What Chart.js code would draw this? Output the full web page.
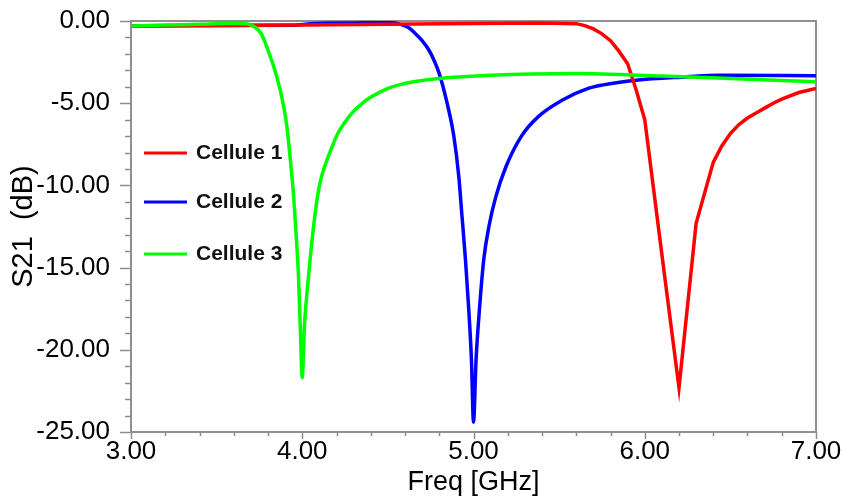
<!DOCTYPE html>
<html>
<head>
<meta charset="utf-8">
<script src="https://cdn.jsdelivr.net/npm/chart.js@4.4.1/dist/chart.umd.min.js"></script>
<style>
  body { margin: 0; background: #fff; }
</style>
</head>
<body>
<canvas id="myChart" width="843" height="501"></canvas>
<script>
// S21 curves (GHz, dB)
const freqCell1 = [3.0, 3.5, 4.0, 4.5, 5.0, 5.4, 5.6, 5.65, 5.7, 5.75, 5.8, 5.85, 5.9, 5.95, 6.0, 6.1, 6.2, 6.3, 6.4,
  6.45, 6.5, 6.55, 6.6, 6.65, 6.7, 6.75, 6.8, 6.9, 7.0];
const s21Cell1 = [-0.3, -0.28, -0.25, -0.2, -0.15, -0.12, -0.16, -0.28, -0.48, -0.78, -1.2, -1.85, -2.6, -4.2, -6.0, -14.2, -22.3, -12.3, -8.6,
  -7.6, -6.85, -6.3, -5.9, -5.6, -5.3, -5.0, -4.75, -4.35, -4.1];

const freqCell2 = [3.0, 3.5, 3.95, 4.05, 4.3, 4.5, 4.56, 4.62, 4.66, 4.7, 4.74, 4.77, 4.8, 4.846, 4.885, 4.914, 4.933, 4.953, 4.972, 4.988, 5.0,
  5.015, 5.035, 5.06, 5.09, 5.13, 5.19, 5.28, 5.38, 5.52, 5.67, 5.75, 5.95, 6.24, 6.43, 7.0];
const s21Cell2 = [-0.3, -0.28, -0.26, -0.16, -0.12, -0.1, -0.16, -0.4, -0.76, -1.2, -1.78, -2.4, -3.2, -5.0, -7.0, -9.45, -11.9, -14.5, -17.5, -20.6, -24.4,
  -20.6, -17.5, -14.5, -12.5, -10.7, -8.85, -7.0, -5.8, -4.8, -4.1, -3.9, -3.6, -3.4, -3.3, -3.33];

const freqCell3 = [3.0, 3.2, 3.4, 3.6, 3.68, 3.72, 3.76, 3.8, 3.84, 3.88, 3.91, 3.93, 3.95, 3.965, 3.978, 3.988, 4.0,
  4.013, 4.037, 4.066, 4.095, 4.12, 4.15, 4.18, 4.21, 4.25, 4.29, 4.34, 4.39, 4.45, 4.5, 4.56, 4.65, 4.8, 5.1, 5.6, 6.1, 6.5, 7.0];
const s21Cell3 = [-0.3, -0.25, -0.2, -0.15, -0.18, -0.35, -0.76, -1.78, -3.0, -4.6, -6.4, -8.4, -10.7, -13.1, -15.5, -18.5, -21.7,
  -18.5, -15.5, -12.5, -10.3, -9.2, -8.3, -7.5, -6.8, -6.15, -5.6, -5.1, -4.7, -4.35, -4.1, -3.9, -3.7, -3.5, -3.3, -3.2, -3.35, -3.5, -3.7];

const seriesLabels = ['Cellule 1', 'Cellule 2', 'Cellule 3'];
const seriesColors = ['#ff0000', '#0000ff', '#00ff00'];

const xMin = 3, xMax = 7, xStep = 0.2;
const yMin = -25, yMax = 0, yStep = 1;

const toPoints = (xs, ys) => xs.map((x, i) => ({ x: x, y: ys[i] }));
const isMajor = (v, every) => Math.abs(v / every - Math.round(v / every)) < 1e-6;

// tick marks (long majors, short minors), grey frame and the legend inside the plot
const frameAndTicks = {
  id: 'frameAndTicks',
  beforeDatasetsDraw(chart) {
    const { ctx, chartArea: a, scales: { x, y } } = chart;
    ctx.save();
    ctx.strokeStyle = '#8c8c8c';
    ctx.lineWidth = 1.5;
    y.ticks.forEach(t => {
      const py = Math.round(y.getPixelForValue(t.value)) + 0.5;
      const len = isMajor(t.value, 5) ? 11 : 6;
      ctx.beginPath(); ctx.moveTo(a.left - len, py); ctx.lineTo(a.left, py); ctx.stroke();
    });
    x.ticks.forEach(t => {
      const px = Math.round(x.getPixelForValue(t.value)) + 0.5;
      const len = isMajor(t.value, 1) ? 7 : 4;
      ctx.beginPath(); ctx.moveTo(px, a.bottom); ctx.lineTo(px, a.bottom + len); ctx.stroke();
    });
    ctx.lineWidth = 2;
    ctx.strokeStyle = '#909090';
    ctx.strokeRect(a.left, a.top, a.right - a.left, a.bottom - a.top);
    ctx.restore();
  },
  afterDraw(chart) {
    const { ctx, chartArea: a } = chart;
    ctx.save();
    ctx.font = 'bold 21px "Liberation Sans", Arial, sans-serif';
    ctx.textBaseline = 'middle';
    const rowY = [153, 202, 254];
    chart.data.datasets.forEach((ds, i) => {
      const yy = rowY[i];
      ctx.strokeStyle = ds.borderColor;
      ctx.lineWidth = 3;
      ctx.beginPath(); ctx.moveTo(a.left + 13, yy); ctx.lineTo(a.left + 56, yy); ctx.stroke();
      ctx.fillStyle = '#111';
      ctx.fillText(ds.label, a.left + 65, yy);
    });
    ctx.restore();
  }
};

Chart.defaults.font.family = '"Liberation Sans", Arial, sans-serif';
Chart.defaults.color = '#000';

const ctx = document.getElementById('myChart');

new Chart(ctx, {
  type: 'line',
  data: {
    datasets: [
      { label: seriesLabels[0], data: toPoints(freqCell1, s21Cell1), borderColor: seriesColors[0], tension: 0, order: 2 },
      { label: seriesLabels[1], data: toPoints(freqCell2, s21Cell2), borderColor: seriesColors[1], cubicInterpolationMode: 'monotone', order: 3 },
      { label: seriesLabels[2], data: toPoints(freqCell3, s21Cell3), borderColor: seriesColors[2], cubicInterpolationMode: 'monotone', order: 1 }
    ]
  },
  options: {
    responsive: false,
    animation: false,
    events: [],
    layout: { padding: { top: 21, right: 27, left: 0, bottom: 0 } },
    elements: {
      point: { radius: 0 },
      line: { borderWidth: 3.5, fill: false }
    },
    plugins: {
      legend: { display: false },
      tooltip: { enabled: false }
    },
    scales: {
      x: {
        type: 'linear',
        min: xMin, max: xMax,
        grid: { display: false, drawTicks: false },
        border: { display: false },
        ticks: {
          stepSize: xStep,
          autoSkip: false,
          maxRotation: 0,
          padding: 4,
          font: { size: 26 },
          callback: v => isMajor(v, 1) ? Number(v).toFixed(2) : ''
        },
        title: { display: true, text: 'Freq [GHz]', font: { size: 27 }, padding: { top: 2, bottom: 2 } },
        afterFit: s => { s.height = 69; s.paddingLeft = 0; s.paddingRight = 0; }
      },
      y: {
        type: 'linear',
        min: yMin, max: yMax,
        grid: { display: false, drawTicks: false },
        border: { display: false },
        ticks: {
          stepSize: yStep,
          autoSkip: false,
          padding: 21,
          font: { size: 26 },
          callback: v => isMajor(v, 5) ? Number(v).toFixed(2) : ''
        },
        title: { display: true, text: 'S21  (dB)', font: { size: 29 }, padding: { top: 7, bottom: 0 } },
        afterFit: s => { s.width = 131; s.paddingTop = 0; s.paddingBottom = 0; }
      }
    }
  },
  plugins: [frameAndTicks]
});
</script>
</body>
</html>
